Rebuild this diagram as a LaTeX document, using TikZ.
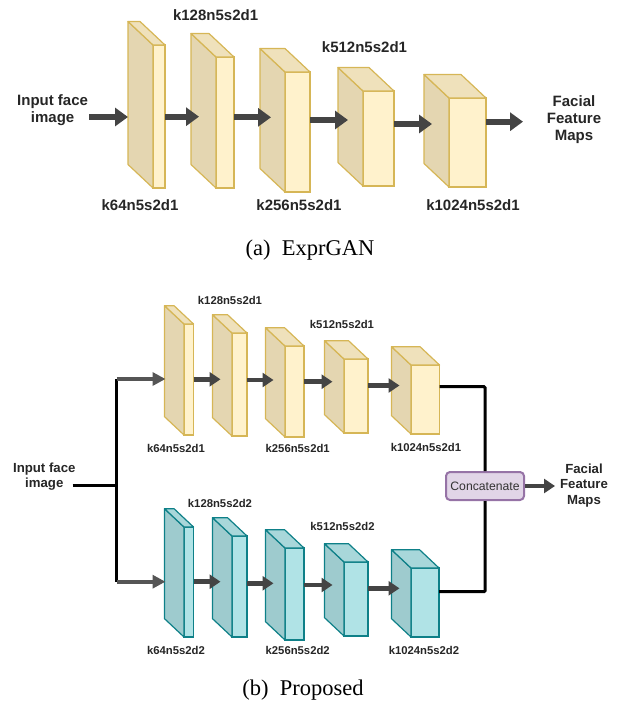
\documentclass[tikz,border=0pt]{standalone}
\usepackage{fontspec}
\setmainfont{Liberation Sans}
\newfontfamily\capfont{Liberation Serif}
\usetikzlibrary{arrows.meta,positioning}

\definecolor{yelline}{HTML}{D6B656}
\definecolor{yelfill}{HTML}{FFF2CC}
\definecolor{yelshade}{HTML}{E4D6B1}
\definecolor{yellid}{HTML}{EFE1BB}
\definecolor{tealline}{HTML}{0E8088}
\definecolor{tealfill}{HTML}{B0E3E6}
\definecolor{tealshade}{HTML}{9ECBCE}
\definecolor{teallid}{HTML}{A8D7DA}
\definecolor{catline}{HTML}{9673A6}
\definecolor{catfill}{HTML}{E1D5E7}
\definecolor{arrgray}{HTML}{444444}
\definecolor{branchgray}{HTML}{555555}

\tikzset{
  yelface/.style={draw=yelline, fill=yelfill, line width=1.2pt, inner sep=0pt, outer sep=0pt},
  yelside/.style={draw=yelline, fill=yelshade, line width=1.2pt, line join=round},
  yeltop/.style={draw=yelline, fill=yellid, line width=1.2pt, line join=round},
  tealface/.style={draw=tealline, fill=tealfill, line width=1.2pt, inner sep=0pt, outer sep=0pt},
  tealside/.style={draw=tealline, fill=tealshade, line width=1.2pt, line join=round},
  tealtop/.style={draw=tealline, fill=teallid, line width=1.2pt, line join=round},
  bigarr/.style={draw=arrgray, line width=6pt, -{Triangle[length=13pt,width=18pt]}},
  smallarr/.style={draw=arrgray, line width=4.5pt, -{Triangle[length=11pt,width=14pt]}},
  brancharr/.style={draw=branchgray, line width=4pt, -{Triangle[length=13pt,width=13pt]}},
  bus/.style={draw=black, line width=3pt},
  bigtxt/.style={font=\fontsize{15}{17}\selectfont\bfseries, text=black!85, inner sep=1pt, align=center},
  biglbl/.style={font=\fontsize{15}{17}\selectfont\bfseries, text=black!85, inner sep=1pt},
  smalltxt/.style={font=\fontsize{13.2}{15.5}\selectfont\bfseries, text=black!85, inner sep=1pt, align=center},
  smalllbl/.style={font=\fontsize{11.3}{13}\selectfont\bfseries, text=black!85, inner sep=1pt},
  concat/.style={draw=catline, fill=catfill, line width=2pt, rounded corners=4pt,
    minimum width=78pt, minimum height=28pt, inner sep=0pt,
    font=\fontsize{12.2}{14}\selectfont, text=black!80},
  capstyle/.style={font=\capfont\fontsize{22.5}{26}\selectfont, inner sep=0pt}
}

% Quader: Name, x links, y oben, Breite, Hoehe, Tiefe, Farbe
\newcommand{\layer}[7]{%
  \node[#7face, minimum width=#4 pt, minimum height=#5 pt] (#1) at ({#2+#4/2},{#3+#5/2}) {};
  \filldraw[#7side] (#1.north west) -- ++(-#6,{-0.94*#6}) -- ++(0,#5) -- (#1.south west) -- cycle;
  \filldraw[#7top] (#1.north west) -- ++(-#6,{-0.94*#6}) -- ++(#4,0) -- (#1.north east) -- cycle;
  \coordinate (#1-back) at ([xshift=-#6 pt]#1.west);
  \coordinate (#1-in) at ([xshift=-#6 pt+8pt]#1.west);
}

\begin{document}
\begin{tikzpicture}[x=1pt, y=-1pt]
  \useasboundingbox (0,0) rectangle (617,705);

  % (a) ExprGAN
  \foreach \n/\x/\y/\w/\h in {a1/153/45/12/143, a2/216/57/18/131, a3/285/72/25/120,
                              a4/363/91/31/95, a5/449/98/37/89}
    {\layer{\n}{\x}{\y}{\w}{\h}{25}{yel}}

  \node[bigtxt] (inA) at (52.6,110.5) {Input face\\image};
  \node[bigtxt] (outA) at (574,120) {Facial\\Feature\\Maps};
  \coordinate (outA-tip) at (523,121.7);

  \foreach \name/\x/\y/\t in {la1/140/205/k64n5s2d1, la2/215.6/15/k128n5s2d1,
                              la3/299/205/k256n5s2d1, la4/364.5/46.7/k512n5s2d1,
                              la5/473/205/k1024n5s2d1}
    \node[biglbl] (\name) at (\x,\y) {\t};

  \draw[bigarr] (inA.east |- 0,117) -- (a1-back |- 0,117);
  \draw[bigarr] (a1.east |- 0,116.7) -- (a2-in |- 0,116.7);
  \draw[bigarr] (a2.east |- 0,117.3) -- ([xshift=3pt]a3-in |- 0,117.3);
  \draw[bigarr] (a3.east |- 0,120) -- ([xshift=2pt]a4-in |- 0,120);
  \draw[bigarr] (a4.east |- 0,124) -- (a5-in |- 0,124);
  \draw[bigarr] (a5.east |- outA-tip) -- (outA-tip);

  \node[capstyle] (capA) at (310,250) {(a)\enspace ExprGAN};

  % (b) Proposed
  \foreach \n/\x/\y/\w/\h in {b1/184/324/9.5/111, b2/232/333/15/103, b3/285/346/19/91,
                              b4/344/359/24/74, b5/411/365/28.5/69}
    {\layer{\n}{\x}{\y}{\w}{\h}{19.5}{yel}}
  \foreach \n/\x/\y/\w/\h in {c1/184/527/9.5/110, c2/232/536/15/101, c3/285/548/19/92,
                              c4/344/562/24/74, c5/411/568/28/69}
    {\layer{\n}{\x}{\y}{\w}{\h}{19.5}{teal}}

  \foreach \name/\x/\y/\t in {lb1/176/448.3/k64n5s2d1, lb2/230/300/k128n5s2d1,
                              lb3/297.7/448/k256n5s2d1, lb4/342/324.3/k512n5s2d1,
                              lb5/426/447.5/k1024n5s2d1,
                              lc1/176/650/k64n5s2d2, lc2/220/503.3/k128n5s2d2,
                              lc3/297.7/650/k256n5s2d2, lc4/342.5/526.7/k512n5s2d2,
                              lc5/424/650.7/k1024n5s2d2}
    \node[smalllbl] (\name) at (\x,\y) {\t};

  \node[smalltxt] (inB) at (44.3,476.5) {Input face\\image};
  \node[smalltxt] (outB) at (584,485.5) {Facial\\Feature\\Maps};
  \node[concat] (cat) at (485,486) {Concatenate};
  \coordinate (split) at (116.7,485.7);
  \coordinate (brT) at (116.7,379);
  \coordinate (brB) at (116.7,581.7);
  \coordinate (outB-tip) at (555,486);

  % Eingang aufteilen
  \draw[bus] ([xshift=-4pt]inB.east |- split) -- (split);
  \draw[bus] (brT) -- (brB);
  \draw[brancharr] (brT) -- ([xshift=1pt]b1-back |- brT);
  \draw[brancharr] (brB) -- ([xshift=1pt]c1-back |- brB);

  % obere Reihe
  \draw[smallarr] (b1.east |- 0,379.3) -- (b2-in |- 0,379.3);
  \draw[smallarr] (b2.east |- 0,380) -- (b3-in |- 0,380);
  \draw[smallarr] (b3.east |- 0,381.7) -- (b4-in |- 0,381.7);
  \draw[smallarr] (b4.east |- 0,385.5) -- (b5-in |- 0,385.5);

  % untere Reihe
  \draw[smallarr] (c1.east |- 0,581.7) -- (c2-in |- 0,581.7);
  \draw[smallarr] (c2.east |- 0,583.3) -- (c3-in |- 0,583.3);
  \draw[smallarr] (c3.east |- 0,585) -- (c4-in |- 0,585);
  \draw[smallarr] (c4.east |- 0,588.3) -- (c5-in |- 0,588.3);

  % Zusammenführen
  \draw[bus, rounded corners=1pt] (b5.east |- 0,386.7) -| (cat.north);
  \draw[bus, rounded corners=1pt] (c5.east |- 0,591.7) -| (cat.south);
  \draw[smallarr] (cat.east) -- (outB-tip);

  \node[capstyle] (capB) at (303,690) {(b)\enspace Proposed};
\end{tikzpicture}
\end{document}
